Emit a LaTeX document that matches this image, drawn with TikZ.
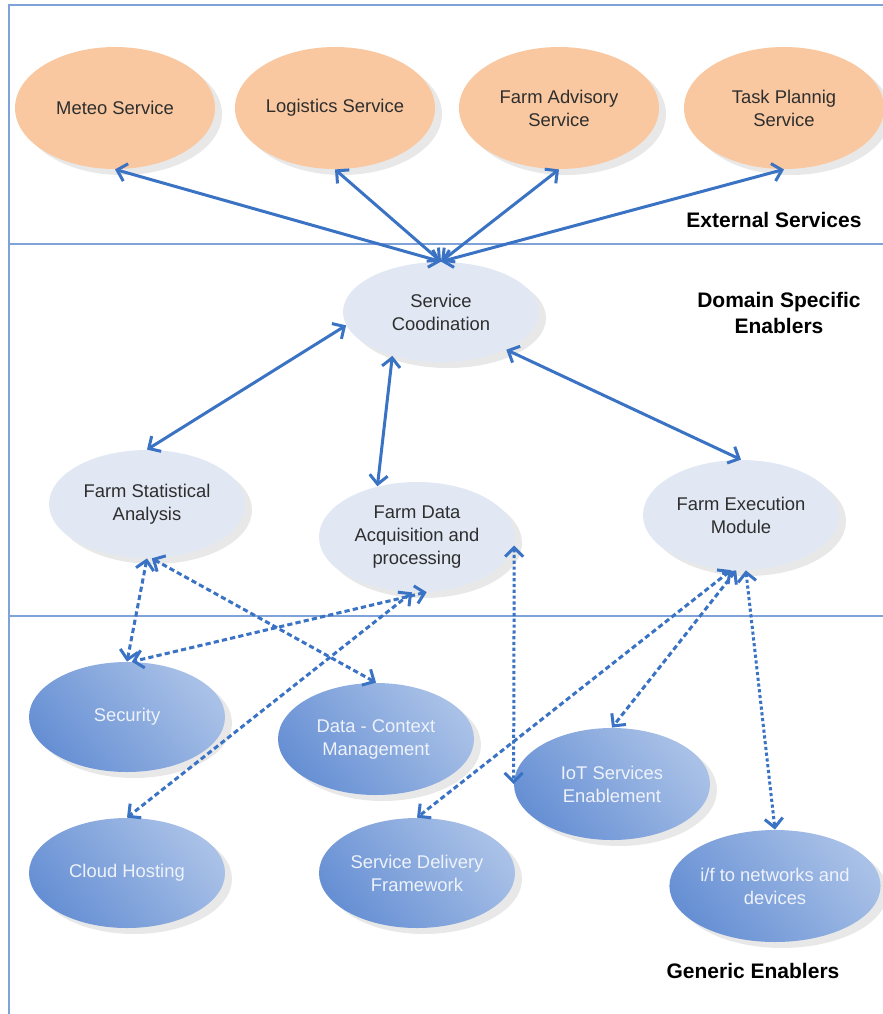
\documentclass[tikz,border=0pt]{standalone}
\usepackage{fontspec}
\setmainfont{Liberation Sans}
\usetikzlibrary{shapes.geometric,arrows.meta,shadows}

\definecolor{frameblue}{HTML}{7FA2D8}
\definecolor{arrowblue}{HTML}{3A72C4}
\definecolor{peach}{HTML}{F9C8A0}
\definecolor{paleblue}{HTML}{E1E8F4}
\definecolor{geDark}{HTML}{6790D4}
\definecolor{geMid}{HTML}{759CDA}
\definecolor{geLight}{HTML}{A9C1E7}
\definecolor{nodetext}{HTML}{2E2E2E}
\definecolor{getext}{HTML}{EEF2FA}
\definecolor{shadowgray}{HTML}{E8E8E8}

\begin{document}
\begin{tikzpicture}[x=0.5pt,y=-0.5pt,
  every node/.style={font=\fontsize{9.2}{11.5}\selectfont, align=center},
  bubble/.style={ellipse, inner sep=0pt, minimum width=98pt, minimum height=55pt,
    drop shadow={shadow xshift=3.5pt, shadow yshift=-3pt, fill=shadowgray, opacity=1}},
  extsvc/.style={bubble, fill=peach, text=nodetext, minimum width=100pt, minimum height=61pt},
  domsvc/.style={bubble, fill=paleblue, text=nodetext},
  gensvc/.style={bubble, top color=geLight, middle color=geMid, bottom color=geDark,
    shading angle=-50, text=getext},
  layerlabel/.style={font=\fontsize{10.5}{13}\selectfont\bfseries, text=black},
  frameline/.style={draw=frameblue, line width=1.4pt},
  link/.style={draw=arrowblue, line width=1.5pt,
    {Straight Barb[length=4.5pt,width=9pt]}-{Straight Barb[length=4.5pt,width=9pt]}},
  dlink/.style={link, dash pattern=on 2.6pt off 1.6pt},
  vlink/.style={link, dash pattern=on 1.6pt off 1.3pt}
]
\useasboundingbox (0,0) rectangle (883,1014);

% layer frame
\draw[frameline] (883,5) -- (9,5) -- (9,1016);
\draw[frameline] (9,244) -- (883,244);
\draw[frameline] (9,616) -- (883,616);

% external services
\node[extsvc] (meteo) at (115,108) {Meteo Service};
\node[extsvc] (logi)  at (335,108) {Logistics Service};
\node[extsvc] (advis) at (559,108) {Farm Advisory\\Service};
\node[extsvc] (task)  at (784,108) {Task Plannig\\Service};

% domain specific enablers
\node[domsvc, minimum height=50pt] (sc) at (441,312) {Service\\Coodination};
\node[domsvc, minimum height=54pt] (fsa) at (147,504) {Farm Statistical\\Analysis};
\node[domsvc] (fda) at (417,537) {Farm Data\\Acquisition and\\processing};
\node[domsvc] (fem) at (741,515) {Farm Execution\\Module};

% generic enablers
\node[gensvc] (sec)   at (127,717) {Security};
\node[gensvc, minimum height=56pt] (dcm) at (376,739) {Data - Context\\Management};
\node[gensvc] (cloud) at (127,873) {Cloud Hosting};
\node[gensvc] (sdf)   at (417,873) {Service Delivery\\Framework};
\node[gensvc, minimum height=56pt] (iot) at (612,784) {IoT Services\\Enablement};
\node[gensvc, minimum height=56pt] (ifn) at (775,886) {i/f to networks and\\devices};

% layer titles
\node[layerlabel] (extlabel) at (774,220) {External Services};
\node[layerlabel] (dselabel) at (779,313) {Domain Specific\\Enablers};
\node[layerlabel] (gelabel)  at (753,971) {Generic Enablers};

% coordination links
\draw[link] (sc.north) -- (meteo.south);
\draw[link] (sc.north) -- (logi.south);
\draw[link] (sc.north) -- (advis.south);
\draw[link] (sc.north) -- (task.south);
\draw[link] (sc.188) -- (fsa.north);
\draw[link] (sc.222) -- (fda.128);
\draw[link] (sc.330) -- (fem.north);

% enabler usage links
\draw[dlink] (fsa.south) -- (sec.north);
\draw[dlink] (fsa.-85) -- (dcm.north);
\draw[dlink] (fda.-80) -- (sec.85);
\draw[dlink] (fda.-95) -- (cloud.north);
\draw[vlink] (fda.-5) -- (iot.west);
\draw[dlink] (fem.-95) -- (iot.north);
\draw[dlink] (fem.-100) -- (sdf.north);
\draw[vlink] (fem.-85) -- (ifn.north);
\end{tikzpicture}
\end{document}
